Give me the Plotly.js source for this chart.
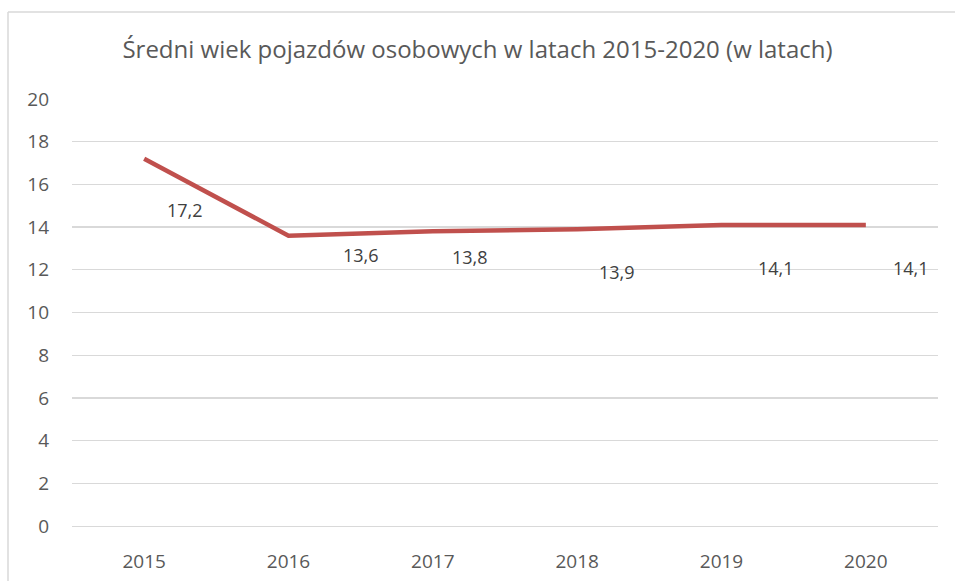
<!DOCTYPE html>
<html>
<head>
<meta charset="utf-8">
<script src="https://cdn.plot.ly/plotly-3.0.1.min.js"></script>
<style>html,body{margin:0;padding:0;background:#fff;}#chart{width:955px;height:581px;}</style>
</head>
<body>
<div id="chart"></div>
<script>
const years = ['2015', '2016', '2017', '2018', '2019', '2020'];
const avgAge = [17.2, 13.6, 13.8, 13.9, 14.1, 14.1];
const valueLabels = ['17,2', '13,6', '13,8', '13,9', '14,1', '14,1'];
const yTicks = [0, 2, 4, 6, 8, 10, 12, 14, 16, 18, 20];
const titleText = 'Średni wiek pojazdów osobowych w latach 2015-2020 (w latach)';

// label offsets (pixels) as placed in the original chart
const labelShiftX = [41, 72, 37, 40, 54, 45];
const labelShiftY = [-51, -19, -26, -43, -43, -43];

const FONT = 'Open Sans, Liberation Sans, sans-serif';

const trace = {
  x: years,
  y: avgAge,
  type: 'scatter',
  mode: 'lines',
  line: {color: '#C0504D', width: 4.5},
  hoverinfo: 'none'
};

// on a category axis, annotations are placed by category index
const annotations = years.map((yr, i) => ({
  x: i, y: avgAge[i], xref: 'x', yref: 'y',
  text: valueLabels[i], showarrow: false,
  xshift: labelShiftX[i], yshift: labelShiftY[i],
  font: {family: FONT, size: 18, color: '#404040'}
}));

const layout = {
  width: 955, height: 581,
  margin: {l: 72, r: 17, t: 99, b: 55},
  paper_bgcolor: '#ffffff', plot_bgcolor: '#ffffff',
  title: {
    text: titleText,
    font: {family: FONT, size: 24, color: '#595959'},
    x: 0.5, xanchor: 'center', y: 0.914, yanchor: 'middle'
  },
  showlegend: false,
  xaxis: {
    type: 'category',
    range: [-0.5, years.length - 0.5],
    showgrid: false, zeroline: false,
    showline: true, linecolor: '#D9D9D9', linewidth: 1.3,
    ticks: '', ticklabelstandoff: 18,
    tickfont: {family: FONT, size: 19, color: '#595959'}
  },
  yaxis: {
    range: [0, 20], tickvals: yTicks,
    showgrid: true, gridcolor: '#D9D9D9', gridwidth: 1.3,
    zeroline: false, showline: false,
    ticks: '', ticklabelstandoff: 22,
    tickfont: {family: FONT, size: 19, color: '#595959'}
  },
  annotations: annotations,
  shapes: [
    {type: 'line', xref: 'paper', yref: 'paper', x0: (8 - 72) / 866, x1: 1.03, y0: 1 + (99 - 12) / 427, y1: 1 + (99 - 12) / 427, line: {color: '#D9D9D9', width: 1.5}},
    {type: 'line', xref: 'paper', yref: 'paper', x0: (8 - 72) / 866, x1: (8 - 72) / 866, y0: -0.2, y1: 1 + (99 - 12) / 427, line: {color: '#D9D9D9', width: 1.5}}
  ]
};

Plotly.newPlot('chart', [trace], layout, {displayModeBar: false, staticPlot: true});
</script>
</body>
</html>
